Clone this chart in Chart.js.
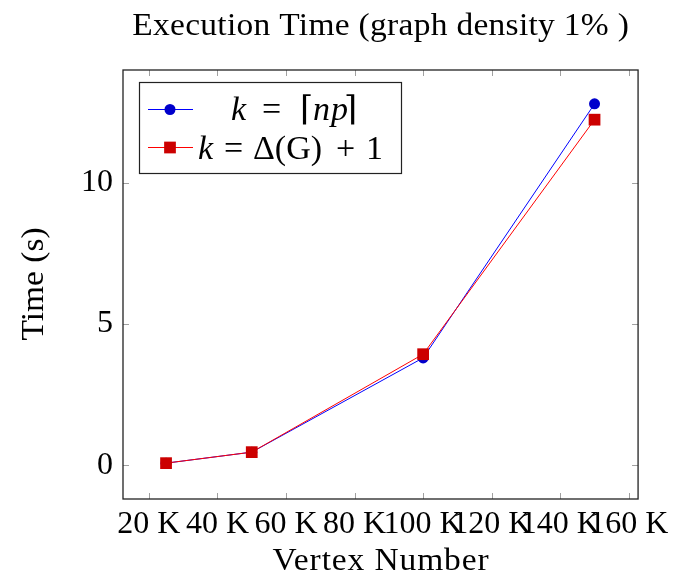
<!DOCTYPE html>
<html>
<head>
<meta charset="utf-8">
<script src="https://cdn.jsdelivr.net/npm/chart.js@4.4.1/dist/chart.umd.min.js"></script>
<style>
  html, body { margin: 0; padding: 0; background: #fff; }
  #wrap { width: 675px; height: 577px; }
</style>
</head>
<body>
<div id="wrap"><canvas id="grafico" width="675" height="577"></canvas></div>
<script>
// datos
const vertices = [25000, 50000, 100000, 150000];
const tiempoNp = [0.07, 0.46, 3.8, 12.8];      // k = ceil(np)
const tiempoDelta = [0.07, 0.46, 3.93, 12.24]; // k = Delta(G)+1
const xTicks = [20000, 40000, 60000, 80000, 100000, 120000, 140000, 160000];
const yTicks = [0, 5, 10];

const fuente = '"Liberation Serif", "DejaVu Serif", serif';

function puntos(ys) {
  return vertices.map((v, i) => ({ x: v, y: ys[i] }));
}

// texto un poco ensanchado hasta un ancho dado (la fuente original es mas ancha que Times)
function textoAncho(ctx, t, x, y, size, ancho) {
  const estirar = 1.08;
  ctx.save();
  ctx.font = size + 'px ' + fuente;
  const w = ctx.measureText(t).width;
  const ls = Math.max(0, (ancho / estirar - w) / t.length);
  ctx.translate(x, y);
  ctx.scale(estirar, 1);
  if ('letterSpacing' in ctx) ctx.letterSpacing = ls.toFixed(2) + 'px';
  ctx.textAlign = 'center';
  ctx.textBaseline = 'alphabetic';
  ctx.fillText(t, ls / 2, 0);
  ctx.restore();
}

// partes de una formula, cada una con su posicion x
function textoMath(ctx, partes, y, size) {
  ctx.textAlign = 'left';
  ctx.textBaseline = 'alphabetic';
  partes.forEach(p => {
    ctx.font = (p.it ? 'italic ' : '') + size + 'px ' + fuente;
    ctx.fillText(p.t, p.x, y);
  });
}

const decoracion = {
  id: 'decoracion',
  afterDraw(chart) {
    const ctx = chart.ctx;
    const a = chart.chartArea;
    const sx = chart.scales.x, sy = chart.scales.y;
    ctx.save();

    // marcas de los ejes (hacia dentro)
    ctx.strokeStyle = '#a0a0a0';
    ctx.lineWidth = 1;
    ctx.beginPath();
    xTicks.forEach(t => {
      const px = Math.round(sx.getPixelForValue(t)) + 0.5;
      ctx.moveTo(px, a.bottom); ctx.lineTo(px, a.bottom - 6);
      ctx.moveTo(px, a.top); ctx.lineTo(px, a.top + 6);
    });
    yTicks.forEach(t => {
      const py = Math.round(sy.getPixelForValue(t)) + 0.5;
      ctx.moveTo(a.left, py); ctx.lineTo(a.left + 6, py);
      ctx.moveTo(a.right, py); ctx.lineTo(a.right - 6, py);
    });
    ctx.stroke();

    // marco
    ctx.strokeStyle = '#222';
    ctx.lineWidth = 1.3;
    ctx.strokeRect(a.left, a.top, a.right - a.left, a.bottom - a.top);

    // titulo y etiquetas de ejes
    ctx.fillStyle = '#000';
    const cx = (a.left + a.right) / 2;
    textoAncho(ctx, 'Execution Time (graph density 1% )', cx, 35, 31, 497);
    textoAncho(ctx, 'Vertex Number', cx, 570, 31, 217);
    ctx.save();
    ctx.translate(43, 284);
    ctx.rotate(-Math.PI / 2);
    textoAncho(ctx, 'Time (s)', 0, 0, 31, 110);
    ctx.restore();

    // leyenda
    const lx = 139, ly = 82, lw = 262, lh = 91;
    ctx.fillStyle = '#fff';
    ctx.fillRect(lx, ly, lw, lh);
    ctx.strokeStyle = '#222';
    ctx.lineWidth = 1.2;
    ctx.strokeRect(lx + 0.5, ly + 0.5, lw, lh);

    const filas = [
      { y: 109, base: 120, color: '#0000ff', fill: '#0000cc', forma: 'circle', r: 5.5,
        partes: [
          { t: 'k', it: true, x: 231 },
          { t: '=', it: false, x: 262 },
          { t: '\u2308', it: false, x: 300 },
          { t: 'n', it: true, x: 313 },
          { t: 'p', it: true, x: 331 },
          { t: '\u2309', it: false, x: 344 }
        ] },
      { y: 147, base: 159, color: '#ff0000', fill: '#cc0000', forma: 'rect', r: 8.3,
        partes: [
          { t: 'k', it: true, x: 198 },
          { t: '=', it: false, x: 224 },
          { t: '\u0394(G)', it: false, x: 253 },
          { t: '+', it: false, x: 336 },
          { t: '1', it: false, x: 366 }
        ] }
    ];
    const tam = 34;
    filas.forEach(f => {
      ctx.strokeStyle = f.color;
      ctx.lineWidth = 1;
      ctx.beginPath();
      ctx.moveTo(148, f.y + 0.5); ctx.lineTo(193, f.y + 0.5);
      ctx.stroke();
      ctx.fillStyle = f.fill;
      ctx.strokeStyle = f.fill;
      Chart.helpers.drawPoint(ctx, { pointStyle: f.forma, radius: f.r, borderWidth: 0 }, 170, f.y + 0.5);
      ctx.fillStyle = '#000';
      textoMath(ctx, f.partes, f.base, tam);
    });
    ctx.restore();
  }
};

new Chart(document.getElementById('grafico'), {
  type: 'line',
  data: {
    datasets: [
      {
        label: 'k = ceil(np)',
        data: puntos(tiempoNp),
        borderColor: '#0000ff',
        borderWidth: 1,
        backgroundColor: '#0000cc',
        pointStyle: 'circle',
        pointRadius: 5.5,
        pointBorderWidth: 0,
        pointBackgroundColor: '#0000cc',
        order: 1
      },
      {
        label: 'k = Delta(G)+1',
        data: puntos(tiempoDelta),
        borderColor: '#ff0000',
        borderWidth: 1,
        backgroundColor: '#cc0000',
        pointStyle: 'rect',
        pointRadius: 8.3,
        pointBorderWidth: 0,
        pointBackgroundColor: '#cc0000',
        order: 0
      }
    ]
  },
  options: {
    responsive: false,
    animation: false,
    layout: { padding: { top: 70, right: 35, left: 0, bottom: 0 } },
    plugins: {
      legend: { display: false },
      title: { display: false },
      tooltip: { enabled: false }
    },
    scales: {
      x: {
        type: 'linear',
        min: 12440,
        max: 162700,
        afterFit: s => { s.height = 78; },
        afterBuildTicks: s => { s.ticks = xTicks.map(v => ({ value: v })); },
        grid: { display: false, drawTicks: false },
        border: { display: false },
        ticks: {
          padding: 6,
          color: '#000',
          font: { family: fuente, size: 32, lineHeight: 1.2 },
          maxRotation: 0,
          autoSkip: false,
          callback: v => (v / 1000) + ' K'
        }
      },
      y: {
        type: 'linear',
        min: -1.2,
        max: 14,
        afterFit: s => { s.width = 123; },
        afterBuildTicks: s => { s.ticks = yTicks.map(v => ({ value: v })); },
        grid: { display: false, drawTicks: false },
        border: { display: false },
        ticks: {
          padding: 10,
          color: '#000',
          font: { family: fuente, size: 32 }
        }
      }
    }
  },
  plugins: [decoracion]
});
</script>
</body>
</html>
